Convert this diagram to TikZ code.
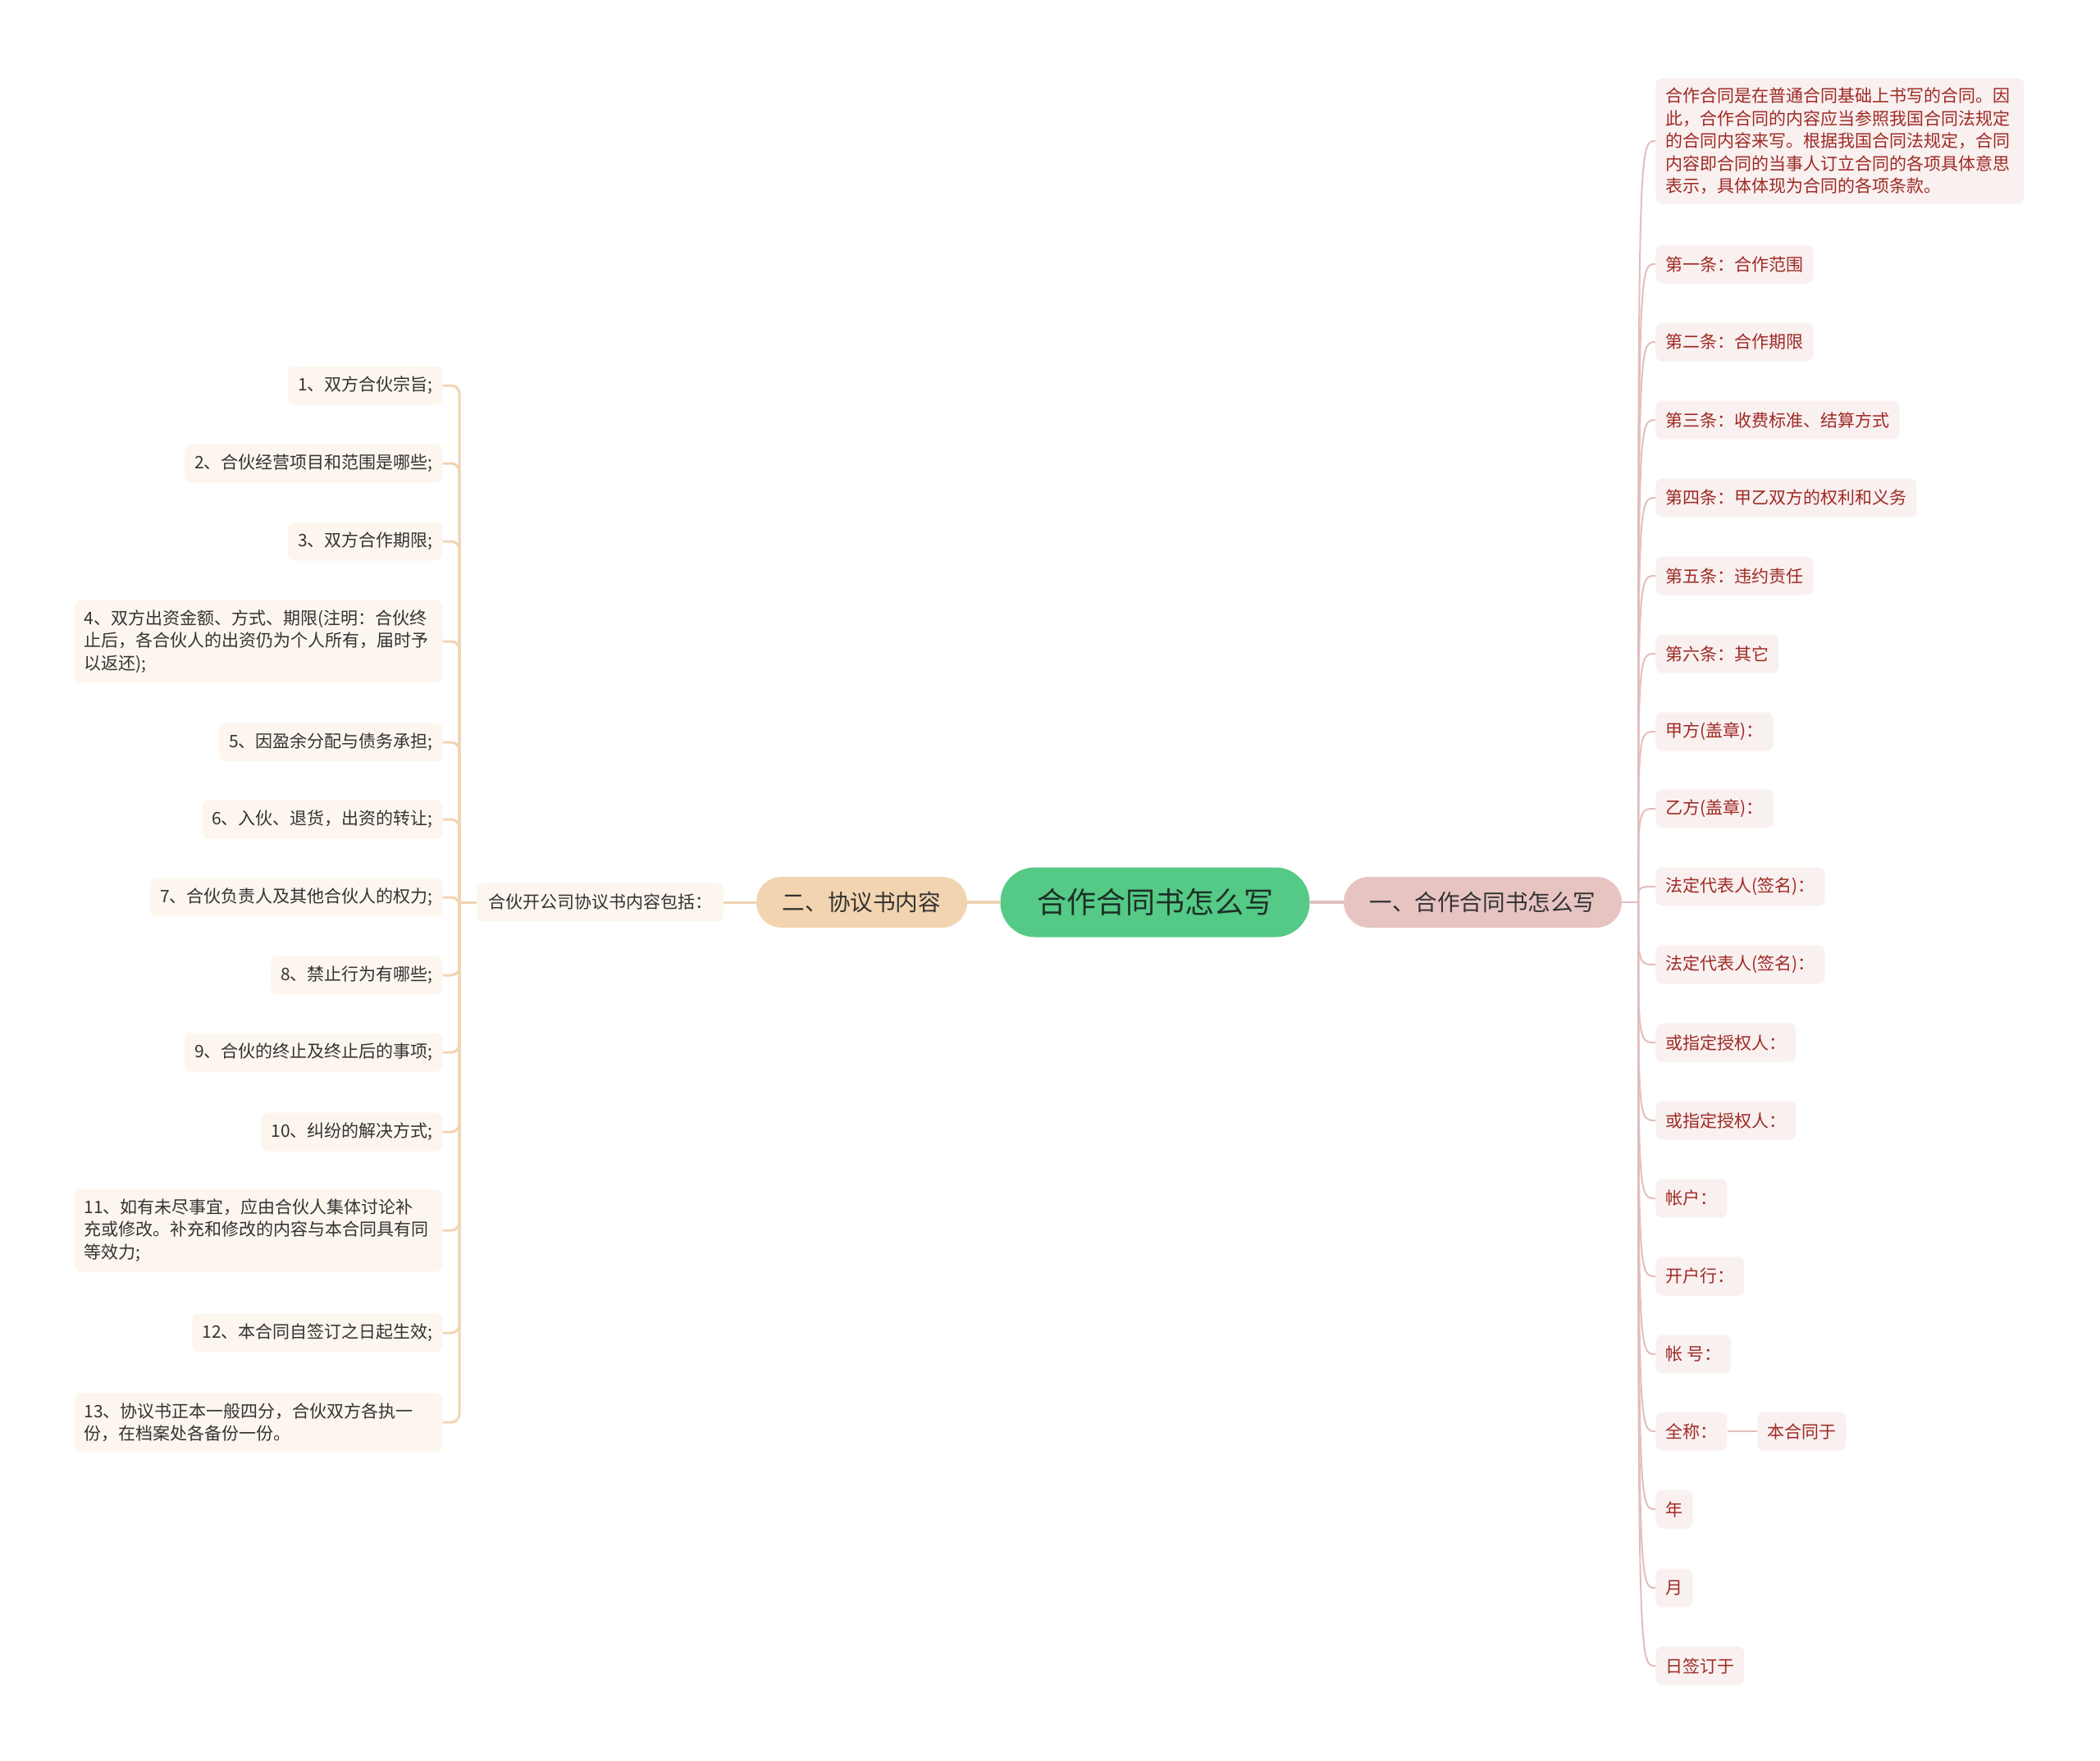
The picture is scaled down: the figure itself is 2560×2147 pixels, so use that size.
\documentclass[tikz,border=0pt]{standalone}
\usepackage{fontspec}
\setmainfont{Noto Sans CJK SC}
\definecolor{rootfill}{RGB}{85,201,134}
\definecolor{roottext}{RGB}{28,48,38}
\definecolor{onefill}{RGB}{231,196,194}
\definecolor{twofill}{RGB}{242,212,176}
\definecolor{lfill}{RGB}{253,246,238}
\definecolor{rfill}{RGB}{249,240,240}
\definecolor{lline}{RGB}{240,212,180}
\definecolor{rline}{RGB}{226,190,190}
\definecolor{rtext}{RGB}{158,42,36}
\definecolor{ltext}{RGB}{51,51,51}

\begin{document}
\begin{tikzpicture}[x=0.5pt,y=-0.5pt,
  rootbox/.style={fill=rootfill,text=roottext,rounded corners=21pt,minimum width=188.5pt,minimum height=42.5pt,font=\fontsize{18}{22}\selectfont},
  onebox/.style={fill=onefill,text=ltext,rounded corners=15.5pt,minimum width=169.5pt,minimum height=31pt,font=\fontsize{13.8}{17}\selectfont},
  twobox/.style={fill=twofill,text=ltext,rounded corners=15.5pt,minimum width=128.5pt,minimum height=31pt,font=\fontsize{13.8}{17}\selectfont},
  lleaf/.style={fill=lfill,text=ltext,rounded corners=4pt,inner xsep=6pt,inner ysep=6pt,minimum height=23.5pt,align=left,font=\fontsize{10.5}{13.7}\selectfont},
  rleaf/.style={fill=rfill,text=rtext,rounded corners=4pt,inner xsep=6pt,inner ysep=6pt,minimum height=23.5pt,align=left,font=\fontsize{10.5}{13.7}\selectfont},
  wide/.style={text width=212.5pt},
  lwire/.style={draw=lline,line width=1.5pt,rounded corners=5pt},
  rwire/.style={draw=rline,line width=1pt},
  mainwire/.style={line width=2pt}]
\useasboundingbox (0,0) rectangle (2560,2147);

\node[rootbox] (root) at (1408,1100) {合作合同书怎么写};
\node[onebox] (one) at (1807.5,1100) {一、合作合同书怎么写};
\node[twobox] (two) at (1050.5,1100) {二、协议书内容};
\node[lleaf,minimum width=150.5pt,align=center] (sub) at (731.5,1100) {合伙开公司协议书内容包括：};

\draw[mainwire,draw=rline] (root) -- (one);
\draw[mainwire,draw=lline] (root) -- (two);
\draw[lwire] (two) -- (sub);

\coordinate (lhub) at (560,1100);
\coordinate (rhub) at (1997,1100);
\draw[lwire] (sub.west) -- (lhub);
\draw[rwire] (one.east) -- (rhub);

\node[lleaf,anchor=east] (l1) at (540,470) {1、双方合伙宗旨;};
\node[lleaf,anchor=east] (l2) at (540,565) {2、合伙经营项目和范围是哪些;};
\node[lleaf,anchor=east] (l3) at (540,660) {3、双方合作期限;};
\node[lleaf,wide,anchor=east] (l4) at (540,782) {4、双方出资金额、方式、期限(注明：合伙终\\止后，各合伙人的出资仍为个人所有，届时予\\以返还);};
\node[lleaf,anchor=east] (l5) at (540,905) {5、因盈余分配与债务承担;};
\node[lleaf,anchor=east] (l6) at (540,999) {6、入伙、退货，出资的转让;};
\node[lleaf,anchor=east] (l7) at (540,1094) {7、合伙负责人及其他合伙人的权力;};
\node[lleaf,anchor=east] (l8) at (540,1189) {8、禁止行为有哪些;};
\node[lleaf,anchor=east] (l9) at (540,1283) {9、合伙的终止及终止后的事项;};
\node[lleaf,anchor=east] (l10) at (540,1380) {10、纠纷的解决方式;};
\node[lleaf,wide,anchor=east] (l11) at (540,1500) {11、如有未尽事宜，应由合伙人集体讨论补\\充或修改。补充和修改的内容与本合同具有同\\等效力;};
\node[lleaf,anchor=east] (l12) at (540,1625) {12、本合同自签订之日起生效;};
\node[lleaf,wide,anchor=east] (l13) at (540,1734) {13、协议书正本一般四分，合伙双方各执一\\份，在档案处各备份一份。};

\draw[lwire] (lhub) |- (l1.east);
\draw[lwire] (lhub) |- (l2.east);
\draw[lwire] (lhub) |- (l3.east);
\draw[lwire] (lhub) |- (l4.east);
\draw[lwire] (lhub) |- (l5.east);
\draw[lwire] (lhub) |- (l6.east);
\draw[lwire] (lhub) |- (l7.east);
\draw[lwire] (lhub) |- (l8.east);
\draw[lwire] (lhub) |- (l9.east);
\draw[lwire] (lhub) |- (l10.east);
\draw[lwire] (lhub) |- (l11.east);
\draw[lwire] (lhub) |- (l12.east);
\draw[lwire] (lhub) |- (l13.east);

\node[rleaf,wide,anchor=west] (r0) at (2018,172) {合作合同是在普通合同基础上书写的合同。因\\此，合作合同的内容应当参照我国合同法规定\\的合同内容来写。根据我国合同法规定，合同\\内容即合同的当事人订立合同的各项具体意思\\表示，具体体现为合同的各项条款。};
\node[rleaf,anchor=west] (r1) at (2018,322) {第一条：合作范围};
\node[rleaf,anchor=west] (r2) at (2018,417) {第二条：合作期限};
\node[rleaf,anchor=west] (r3) at (2018,512) {第三条：收费标准、结算方式};
\node[rleaf,anchor=west] (r4) at (2018,607) {第四条：甲乙双方的权利和义务};
\node[rleaf,anchor=west] (r5) at (2018,702) {第五条：违约责任};
\node[rleaf,anchor=west] (r6) at (2018,797) {第六条：其它};
\node[rleaf,anchor=west] (r7) at (2018,892) {甲方(盖章)：};
\node[rleaf,anchor=west] (r8) at (2018,986) {乙方(盖章)：};
\node[rleaf,anchor=west] (r9) at (2018,1081) {法定代表人(签名)：};
\node[rleaf,anchor=west] (r10) at (2018,1176) {法定代表人(签名)：};
\node[rleaf,anchor=west] (r11) at (2018,1271) {或指定授权人：};
\node[rleaf,anchor=west] (r12) at (2018,1366) {或指定授权人：};
\node[rleaf,anchor=west] (r13) at (2018,1461) {帐户：};
\node[rleaf,anchor=west] (r14) at (2018,1556) {开户行：};
\node[rleaf,anchor=west] (r15) at (2018,1651) {帐 号：};
\node[rleaf,anchor=west] (r16) at (2018,1745) {全称：};
\node[rleaf,anchor=west] (r17) at (2018,1840) {年};
\node[rleaf,anchor=west] (r18) at (2018,1936) {月};
\node[rleaf,anchor=west] (r19) at (2018,2031) {日签订于};
\node[rleaf,anchor=west] (r20) at (2142,1745) {本合同于};

\draw[rwire] (rhub) .. controls (rhub |- r0.west) .. (r0.west);
\draw[rwire] (rhub) .. controls (rhub |- r1.west) .. (r1.west);
\draw[rwire] (rhub) .. controls (rhub |- r2.west) .. (r2.west);
\draw[rwire] (rhub) .. controls (rhub |- r3.west) .. (r3.west);
\draw[rwire] (rhub) .. controls (rhub |- r4.west) .. (r4.west);
\draw[rwire] (rhub) .. controls (rhub |- r5.west) .. (r5.west);
\draw[rwire] (rhub) .. controls (rhub |- r6.west) .. (r6.west);
\draw[rwire] (rhub) .. controls (rhub |- r7.west) .. (r7.west);
\draw[rwire] (rhub) .. controls (rhub |- r8.west) .. (r8.west);
\draw[rwire] (rhub) .. controls (rhub |- r9.west) .. (r9.west);
\draw[rwire] (rhub) .. controls (rhub |- r10.west) .. (r10.west);
\draw[rwire] (rhub) .. controls (rhub |- r11.west) .. (r11.west);
\draw[rwire] (rhub) .. controls (rhub |- r12.west) .. (r12.west);
\draw[rwire] (rhub) .. controls (rhub |- r13.west) .. (r13.west);
\draw[rwire] (rhub) .. controls (rhub |- r14.west) .. (r14.west);
\draw[rwire] (rhub) .. controls (rhub |- r15.west) .. (r15.west);
\draw[rwire] (rhub) .. controls (rhub |- r16.west) .. (r16.west);
\draw[rwire] (rhub) .. controls (rhub |- r17.west) .. (r17.west);
\draw[rwire] (rhub) .. controls (rhub |- r18.west) .. (r18.west);
\draw[rwire] (rhub) .. controls (rhub |- r19.west) .. (r19.west);
\draw[rwire] (r16) -- (r20);
\end{tikzpicture}
\end{document}
